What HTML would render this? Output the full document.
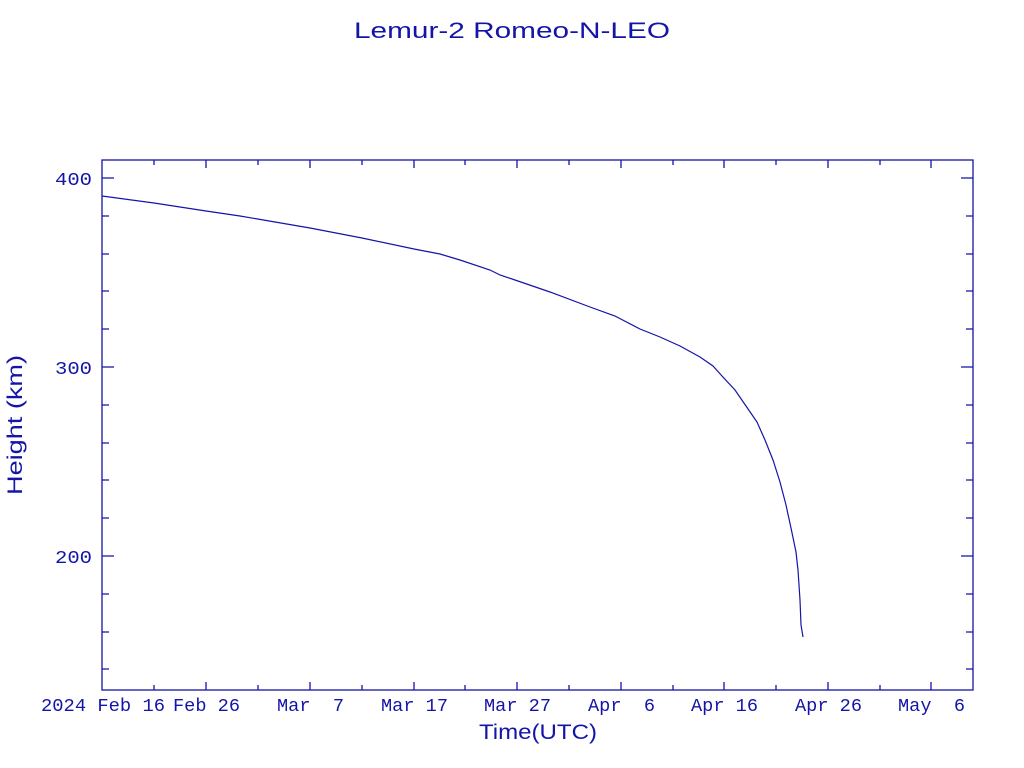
<!DOCTYPE html>
<html><head><style>body{margin:0;background:#fff}svg{display:block}</style></head><body>
<svg width="1024" height="768" viewBox="0 0 1024 768" xmlns="http://www.w3.org/2000/svg" font-family="'Liberation Mono', 'DejaVu Sans Mono', monospace" fill="#1414a8">
<text x="354" y="38" font-size="22" textLength="316" lengthAdjust="spacingAndGlyphs" font-family="'Liberation Sans', sans-serif">Lemur-2 Romeo-N-LEO</text>
<g stroke="#1414a8" stroke-width="1.3" fill="none">
<rect x="102" y="160" width="871" height="530"/>
<path d="M102 178h12M102 367h12M102 556h12M973 178h-12M973 367h-12M973 556h-12
M102 669h7M102 632h7M102 594h7M102 518h7M102 480h7M102 443h7M102 405h7M102 329h7M102 291h7M102 254h7M102 216h7
M973 669h-7M973 632h-7M973 594h-7M973 518h-7M973 480h-7M973 443h-7M973 405h-7M973 329h-7M973 291h-7M973 254h-7M973 216h-7"/>
<path d="M206 690v-8M310 690v-8M414 690v-8M517 690v-8M621 690v-8M724 690v-8M828 690v-8M931 690v-8
M154 690v-5M258 690v-5M362 690v-5M465 690v-5M569 690v-5M673 690v-5M776 690v-5M880 690v-5
M206 160v8M310 160v8M414 160v8M517 160v8M621 160v8M724 160v8M828 160v8M931 160v8
M154 160v5M258 160v5M362 160v5M465 160v5M569 160v5M673 160v5M776 160v5M880 160v5"/>
<polyline stroke-width="1.2" points="102,196 154,203 206,211 240,216 275,222 310,228 362,238 414,249 440,254 460,260 490,270 500,275 515,280 550,292 590,307 615,316 640,329 660,337 680,346 700,357 713,366 722,376 735,390 746,406 757,422 765,440 773,460 780,482 786,505 791,528 796,552 798,570 800,600 801,625 803,637"/>
</g>
<g font-size="18">
<text x="55" y="185" textLength="37" lengthAdjust="spacingAndGlyphs">400</text>
<text x="55" y="374" textLength="37" lengthAdjust="spacingAndGlyphs">300</text>
<text x="55" y="563" textLength="37" lengthAdjust="spacingAndGlyphs">200</text>
<text x="41" y="711" textLength="124" lengthAdjust="spacingAndGlyphs" xml:space="preserve">2024 Feb 16</text>
<text x="173" y="711" textLength="67" lengthAdjust="spacingAndGlyphs">Feb 26</text>
<text x="277" y="711" textLength="67" lengthAdjust="spacingAndGlyphs" xml:space="preserve">Mar  7</text>
<text x="381" y="711" textLength="67" lengthAdjust="spacingAndGlyphs">Mar 17</text>
<text x="484" y="711" textLength="67" lengthAdjust="spacingAndGlyphs">Mar 27</text>
<text x="588" y="711" textLength="67" lengthAdjust="spacingAndGlyphs" xml:space="preserve">Apr  6</text>
<text x="691" y="711" textLength="67" lengthAdjust="spacingAndGlyphs">Apr 16</text>
<text x="795" y="711" textLength="67" lengthAdjust="spacingAndGlyphs">Apr 26</text>
<text x="898" y="711" textLength="67" lengthAdjust="spacingAndGlyphs" xml:space="preserve">May  6</text>
</g>
<text x="479" y="739" font-size="21" textLength="118" lengthAdjust="spacingAndGlyphs" font-family="'Liberation Sans', sans-serif">Time(UTC)</text>
<text transform="translate(22,495) rotate(-90)" font-size="21" textLength="140" lengthAdjust="spacingAndGlyphs" font-family="'Liberation Sans', sans-serif">Height (km)</text>
</svg>
</body></html>
